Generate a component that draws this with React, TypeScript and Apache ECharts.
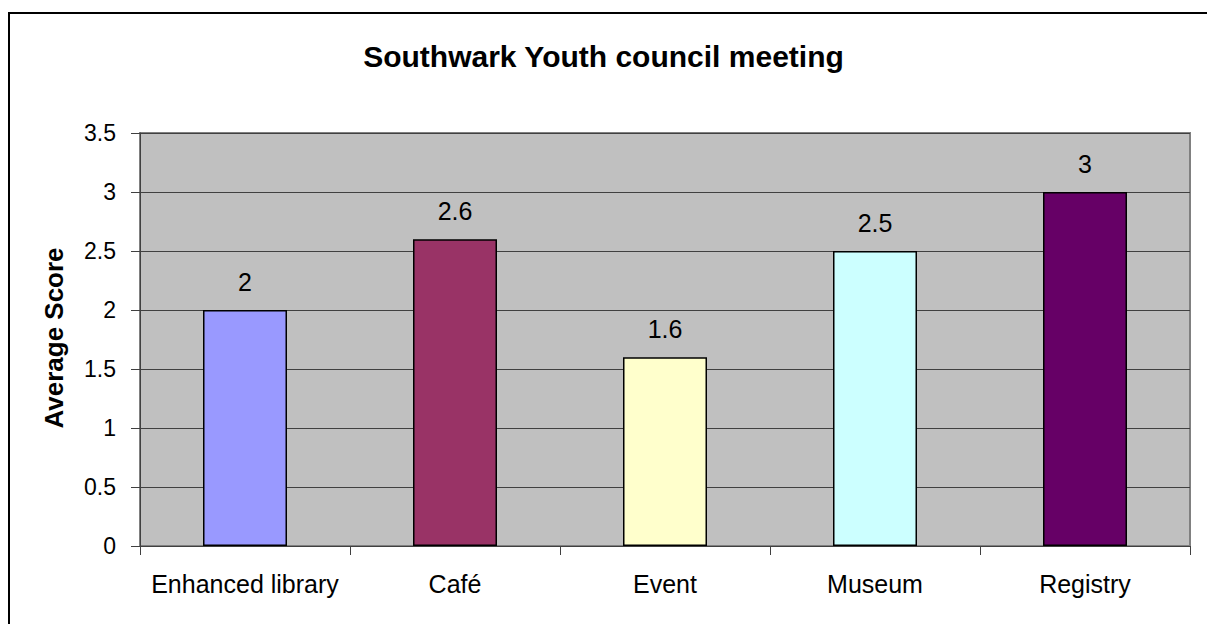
import React, { useEffect, useRef } from "react";
import * as echarts from "echarts";

const categories = ["Enhanced library", "Café", "Event", "Museum", "Registry"];
const scores = [2, 2.6, 1.6, 2.5, 3];
const barColors = ["#9999FF", "#993366", "#FFFFCC", "#CCFFFF", "#660066"];
const titleText = "Southwark Youth council meeting";
const yAxisTitle = "Average Score";

const FONT = "'Liberation Sans', Arial, Helvetica, sans-serif";

export default function App() {
  const ref = useRef<HTMLDivElement>(null);

  useEffect(() => {
    if (!ref.current) return;
    const chart = echarts.init(ref.current, null, { renderer: "svg" });
    chart.setOption({
      animation: false,
      backgroundColor: "#ffffff",
      textStyle: { fontFamily: FONT },
      title: {
        text: titleText,
        left: "center",
        top: 41,
        padding: 0,
        textStyle: { fontFamily: FONT, fontSize: 30, fontWeight: "bold", color: "#000" },
      },
      graphic: [
        {
          type: "rect",
          shape: { x: 9, y: 13, width: 1300, height: 700 },
          style: { fill: "none", stroke: "#000", lineWidth: 2 },
          silent: true,
        },
        {
          type: "text",
          x: 54,
          y: 338,
          rotation: Math.PI / 2,
          style: {
            text: yAxisTitle,
            fontFamily: FONT,
            fontSize: 26,
            fontWeight: "bold",
            fill: "#000",
            textAlign: "center",
            textVerticalAlign: "middle",
          },
        },
      ],
      grid: {
        left: 140,
        right: 17,
        top: 133,
        bottom: 78,
        show: true,
        backgroundColor: "#C0C0C0",
        borderColor: "#808080",
        borderWidth: 2,
        containLabel: false,
      },
      xAxis: {
        type: "category",
        data: categories,
        boundaryGap: true,
        axisLine: { show: true, lineStyle: { color: "#404040", width: 1 } },
        axisTick: { show: true, length: 9, alignWithLabel: false, lineStyle: { color: "#404040" } },
        axisLabel: { interval: 0, fontFamily: FONT, fontSize: 25, color: "#000", margin: 25 },
        splitLine: { show: false },
      },
      yAxis: {
        type: "value",
        min: 0,
        max: 3.5,
        interval: 0.5,
        axisLine: { show: true, lineStyle: { color: "#404040", width: 1 } },
        axisTick: { show: true, length: 9, lineStyle: { color: "#404040" } },
        axisLabel: { fontFamily: FONT, fontSize: 23, color: "#000", margin: 24 },
        splitLine: { show: true, lineStyle: { color: "#404040", width: 1 } },
      },
      series: [
        {
          type: "bar",
          barWidth: "40%",
          data: scores.map((v, i) => ({
            value: v,
            itemStyle: { color: barColors[i], borderColor: "#000", borderWidth: 1.5 },
          })),
          label: {
            show: true,
            position: "top",
            distance: 16,
            fontFamily: FONT,
            fontSize: 25,
            color: "#000",
          },
        },
      ],
    });
    return () => chart.dispose();
  }, []);

  return (
    <div
      ref={ref}
      style={{ position: "absolute", left: 0, top: 0, width: 1207, height: 624, overflow: "hidden" }}
    />
  );
}
